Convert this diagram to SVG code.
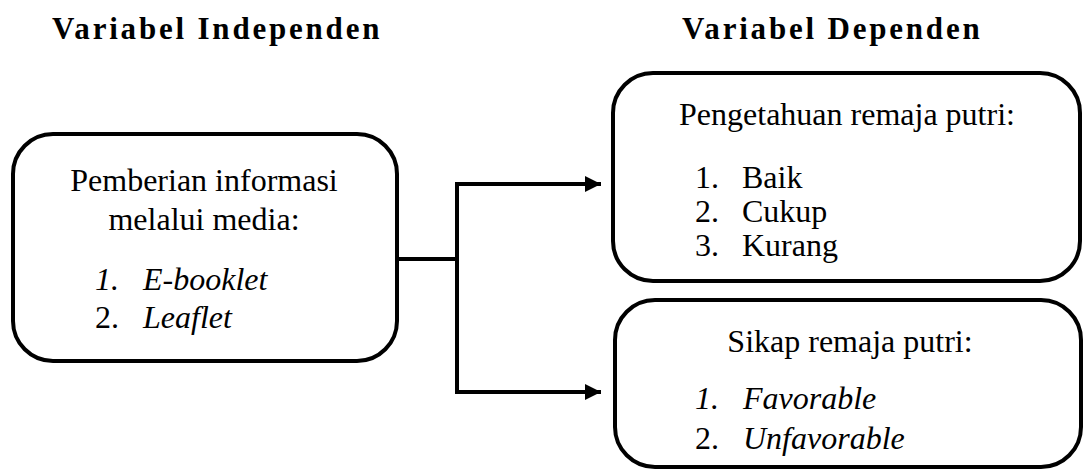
<svg xmlns="http://www.w3.org/2000/svg" width="1083" height="469" viewBox="0 0 1083 469">
<style>
.box{fill:#fff;stroke:#000;stroke-width:4}
.t{font-family:"Liberation Serif","Times New Roman",serif;font-size:32px;fill:#000}
.i{font-style:italic}
.title{font-family:"Liberation Serif","Times New Roman",serif;font-size:31px;font-weight:bold;letter-spacing:2.8px;fill:#000}
.c{text-anchor:middle}
.ln{fill:none;stroke:#000;stroke-width:4}
</style>
<defs>
<marker id="arr" markerUnits="userSpaceOnUse" markerWidth="18" markerHeight="18" refX="16" refY="8" orient="auto">
<path d="M0,0 L16,8 L0,16 Z" fill="#000"/>
</marker>
</defs>
<text class="title" x="52" y="39">Variabel Independen</text>
<text class="title" x="682" y="39">Variabel Dependen</text>
<g id="connectors">
<path class="ln" d="M399,259 H457"/>
<path class="ln" d="M457,184 V392"/>
<path class="ln" d="M455,184 H601" marker-end="url(#arr)"/>
<path class="ln" d="M455,392 H601" marker-end="url(#arr)"/>
</g>
<g id="node-independen">
<rect class="box" x="13" y="134" width="384" height="227" rx="40"/>
<text class="t c" x="204" y="191">Pemberian informasi</text>
<text class="t c" x="204" y="230">melalui media:</text>
<text class="t i" x="95" y="290">1.</text><text class="t i" x="143" y="290">E-booklet</text>
<text class="t" x="95" y="328">2.</text><text class="t i" x="143" y="328">Leaflet</text>
</g>
<g id="node-pengetahuan">
<rect class="box" x="613" y="73" width="467" height="208" rx="40"/>
<text class="t c" x="847" y="125">Pengetahuan remaja putri:</text>
<text class="t" x="695" y="188">1.</text><text class="t" x="742" y="188">Baik</text>
<text class="t" x="695" y="222">2.</text><text class="t" x="742" y="222">Cukup</text>
<text class="t" x="695" y="256">3.</text><text class="t" x="742" y="256">Kurang</text>
</g>
<g id="node-sikap">
<rect class="box" x="615" y="300" width="466" height="167" rx="40"/>
<text class="t c" x="850" y="352">Sikap remaja putri:</text>
<text class="t i" x="695" y="409">1.</text><text class="t i" x="743" y="409">Favorable</text>
<text class="t" x="695" y="449">2.</text><text class="t i" x="743" y="449">Unfavorable</text>
</g>
</svg>
